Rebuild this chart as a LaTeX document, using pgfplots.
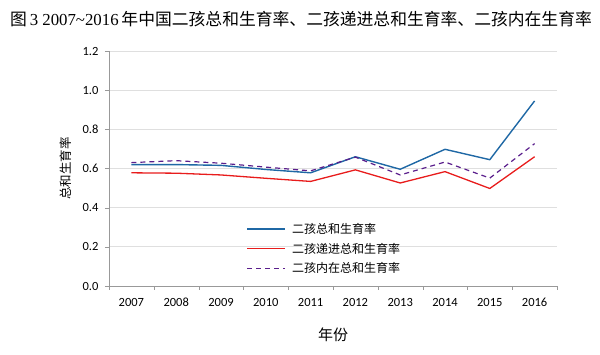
\documentclass[border=0pt]{standalone}
\usepackage{fontspec}
\setmainfont{Liberation Serif}
\newfontfamily\cjk{Noto Sans CJK SC}
\newfontfamily\lab{Carlito}
\usepackage{pgfplots}
\pgfplotsset{compat=1.18}
\definecolor{cblue}{RGB}{31,104,165}
\definecolor{cred}{RGB}{232,28,28}
\definecolor{cpurple}{RGB}{90,30,140}
\begin{document}
\begin{tikzpicture}[x=1pt,y=1pt]
\useasboundingbox (0,0) rectangle (600,355);
\node[anchor=west,inner sep=0pt] at (10,336) {\fontsize{16.8}{18}\selectfont {\cjk 图}\,3 2007\textasciitilde 2016\,{\cjk 年中国二孩总和生育率、二孩递进总和生育率、二孩内在生育率}};
\begin{axis}[
  at={(109pt,69pt)}, anchor=south west,
  scale only axis, width=448pt, height=235pt,
  xmin=-0.5, xmax=9.5, ymin=0, ymax=1.2,
  xtick={0,...,9},
  xticklabels={2007,2008,2009,2010,2011,2012,2013,2014,2015,2016},
  major x tick style={draw=none},
  minor xtick={-0.5,0.5,...,9.5},
  minor tick length=4pt,
  tick align=outside,
  ytick={0,0.2,...,1.2},
  yticklabel style={/pgf/number format/fixed,/pgf/number format/fixed zerofill,/pgf/number format/precision=1, xshift=-3pt},
  major tick length=4pt,
  ymajorgrids,
  grid style={gray!25, line width=0.8pt},
  axis x line*=bottom, axis y line*=left,
  axis line style={gray!80},
  tick style={gray!80},
  /pgf/number format/assume math mode=true,
  ticklabel style={font=\lab\fontsize{12.5}{14}\selectfont, text=black},
  xticklabel style={text height=9pt, text depth=0pt, yshift=-4pt},
  xlabel={\cjk 年份},
  xlabel style={font=\fontsize{15}{17}\selectfont, yshift=-14pt},
  ylabel={\cjk 总和生育率},
  ylabel style={font=\fontsize{12.5}{14}\selectfont, yshift=4pt},
  legend style={at={(0.30,0.285)}, anchor=north west, draw=none, fill=none,
    font=\cjk\fontsize{12}{14}\selectfont, row sep=4pt},
  legend cell align=left,
  legend image code/.code={\draw[#1] (0pt,0pt) -- (38pt,0pt); \path (42pt,0pt);},
]
\addplot[cblue, line width=1.4pt] coordinates {
(0,0.620) (1,0.620) (2,0.616) (3,0.595) (4,0.578) (5,0.660) (6,0.596) (7,0.698) (8,0.645) (9,0.945)};
\addlegendentry{二孩总和生育率}
\addplot[cred, line width=1.3pt] coordinates {
(0,0.578) (1,0.576) (2,0.567) (3,0.550) (4,0.534) (5,0.593) (6,0.526) (7,0.584) (8,0.498) (9,0.660)};
\addlegendentry{二孩递进总和生育率}
\addplot[cpurple, line width=1.2pt, dash pattern=on 5pt off 4pt] coordinates {
(0,0.630) (1,0.640) (2,0.627) (3,0.607) (4,0.588) (5,0.658) (6,0.567) (7,0.633) (8,0.551) (9,0.727)};
\addlegendentry{二孩内在总和生育率}
\end{axis}
\end{tikzpicture}
\end{document}
